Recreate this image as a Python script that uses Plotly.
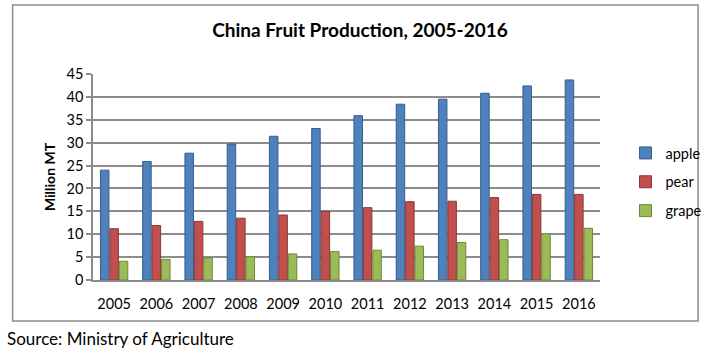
import plotly.graph_objects as go

years = ["2005", "2006", "2007", "2008", "2009", "2010",
         "2011", "2012", "2013", "2014", "2015", "2016"]
apple = [24.0, 25.9, 27.7, 29.7, 31.4, 33.1, 35.9, 38.4, 39.5, 40.8, 42.4, 43.7]
pear = [11.2, 11.9, 12.8, 13.5, 14.2, 15.0, 15.8, 17.1, 17.2, 18.0, 18.7, 18.7]
grape = [4.1, 4.5, 4.8, 5.1, 5.7, 6.2, 6.5, 7.4, 8.2, 8.8, 10.1, 11.3]
y_ticks = [0, 5, 10, 15, 20, 25, 30, 35, 40, 45]

W, H = 719, 353
ML, MR, MT, MB = 93, 109, 74, 73
PW, PH = W - ML - MR, H - MT - MB

def px_x(x):
    return (x - ML) / PW

def px_y(y):
    return (H - MB - y) / PH

FONT = "Lato, 'Open Sans', sans-serif"

fig = go.Figure()
series = [("apple", apple, "#4F81BD", "#345d8f"),
          ("pear", pear, "#C0504D", "#8e3532"),
          ("grape", grape, "#9BBB59", "#6c8a35")]
for name, vals, col, edge in series:
    fig.add_trace(go.Bar(
        x=years, y=vals, name=name, legendgroup=name,
        marker=dict(color=col, line=dict(color=edge, width=1)),
    ))

fig.update_layout(
    width=W, height=H,
    margin=dict(l=ML, r=MR, t=MT, b=MB),
    paper_bgcolor="white", plot_bgcolor="white",
    barmode="group", bargap=0.33, bargroupgap=0.1,
    font=dict(family=FONT, color="black"),
    title=dict(text="<b>China Fruit Production, 2005-2016</b>",
               x=360 / W, xanchor="center", y=1 - 30 / H, yanchor="middle",
               yref="container", font=dict(size=19, family=FONT, color="black")),
    legend=dict(x=px_x(636), xanchor="left", y=px_y(182), yanchor="middle",
                font=dict(size=14.5, family=FONT), tracegroupgap=7,
                itemwidth=30, bgcolor="rgba(0,0,0,0)"),
    showlegend=True,
)
fig.update_xaxes(
    type="category", showgrid=False, showline=True, linecolor="#8c8c8c", linewidth=1.5,
    ticks="", tickfont=dict(size=14.5, family=FONT), ticklabelstandoff=10,
)
fig.update_yaxes(
    range=[0, 45], tickvals=y_ticks, showgrid=True, gridcolor="#8c8c8c", gridwidth=1.5,
    zeroline=False, showline=True, linecolor="#8c8c8c", linewidth=1.5,
    ticks="outside", ticklen=5, tickcolor="#8c8c8c", tickwidth=1.5,
    tickfont=dict(size=14.5, family=FONT),
    title=dict(text="<b>Million MT</b>", font=dict(size=14, family=FONT), standoff=8),
)

# outer chart border
fig.add_shape(type="rect", xref="paper", yref="paper",
              x0=px_x(11), x1=px_x(710), y0=px_y(321), y1=px_y(5),
              line=dict(color="#8c8c8c", width=1.5), fillcolor="rgba(0,0,0,0)",
              layer="below")

fig.add_annotation(text="Source: Ministry of Agriculture", xref="paper", yref="paper",
                   x=px_x(3), y=px_y(338), xanchor="left", yanchor="middle",
                   showarrow=False, font=dict(size=17, family=FONT, color="black"))

fig.write_html("out.html")
